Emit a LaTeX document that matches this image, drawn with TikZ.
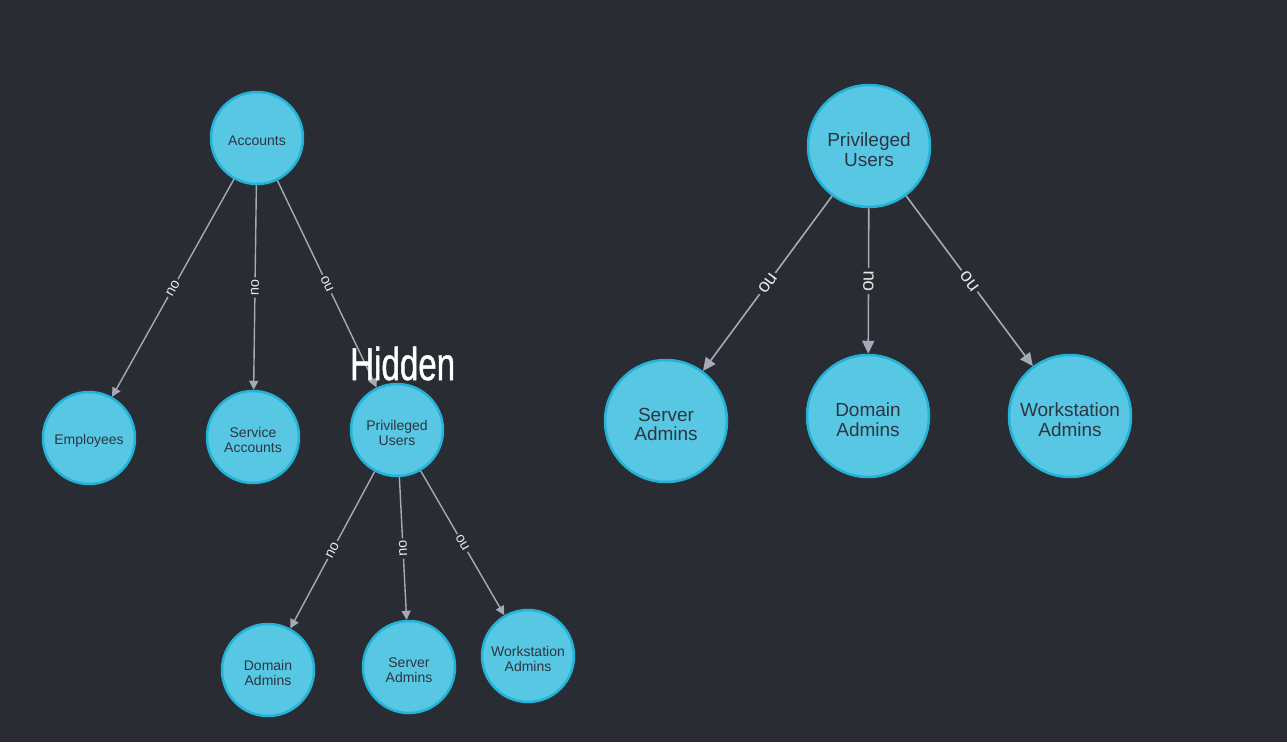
\documentclass[tikz,border=0pt]{standalone}
\usepackage{fontspec}
\setmainfont{Liberation Sans}
\newfontfamily\hidfont[FakeBold=1.2]{Liberation Sans}
\usetikzlibrary{arrows.meta}
\definecolor{bg}{HTML}{292C33}
\definecolor{nodefill}{HTML}{57C7E3}
\definecolor{nodeborder}{HTML}{23B3D7}
\definecolor{nodetext}{HTML}{2F3540}
\definecolor{edgecol}{HTML}{A5ABB6}
\definecolor{lbltext}{HTML}{E6E6E6}
\tikzset{
  ounode/.style={circle, fill=nodefill, draw=nodeborder, line width=2.5pt, inner sep=0pt},
  smalltext/.style={text=nodetext, align=center, inner sep=0pt, yshift=-3pt, font=\fontsize{14}{15}\selectfont},
  bigtext/.style={text=nodetext, align=center, inner sep=0pt, yshift=-3.5pt, font=\fontsize{19}{19.5}\selectfont},
  smallnode/.style={ounode, minimum size=92pt, label={[smalltext]center:#1}},
  bignode/.style={ounode, minimum size=122pt, label={[bigtext]center:#1}},
  edgesmall/.style={draw=edgecol, line width=1.4pt, -{Triangle[length=9pt,width=9pt]}},
  edgebig/.style={draw=edgecol, line width=1.6pt, -{Triangle[length=13pt,width=12pt]}},
  lblsmall/.style={midway, sloped, allow upside down, fill=bg, text=lbltext, inner sep=2pt, font=\fontsize{14.5}{14.5}\selectfont},
  lblbig/.style={midway, sloped, fill=bg, text=lbltext, inner sep=2.5pt, font=\fontsize{19}{19}\selectfont}
}
\begin{document}
\begin{tikzpicture}[x=1pt,y=-1pt]
\fill[bg] (0,0) rectangle (1287,742);
\useasboundingbox (0,0) rectangle (1287,742);

% left tree
\node[smallnode={Accounts}] (acc) at (257,138) {};
\node[smallnode={Employees}] (emp) at (89,438) {};
\node[smallnode={Service\\Accounts}] (svc) at (253,437) {};
\node[smallnode={Privileged\\Users}] (pu1) at (397,430) {};
\node[smallnode={Domain\\Admins}] (da1) at (268,670) {};
\node[smallnode={Server\\Admins}] (sa1) at (409,667) {};
\node[smallnode={Workstation\\Admins}] (wa1) at (528,656) {};

\draw[edgesmall] (acc) -- node[lblsmall] {ou} (emp);
\draw[edgesmall] (acc) -- node[lblsmall] {ou} (svc);
\draw[edgesmall] (acc) -- node[lblsmall] {ou} (pu1);
\draw[edgesmall] (pu1) -- node[lblsmall] {ou} (da1);
\draw[edgesmall] (pu1) -- node[lblsmall] {ou} (sa1);
\draw[edgesmall] (pu1) -- node[lblsmall] {ou} (wa1);

\node[anchor=base west, inner sep=0pt, text=white, font=\hidfont\fontsize{46}{46}\selectfont] (hid) at (350,380) {\scalebox{0.72}[1]{Hidden}};

% right tree
\node[bignode={Privileged\\Users}] (pu2) at (869,146) {};
\node[bignode={Server\\Admins}] (sa2) at (666,421) {};
\node[bignode={Domain\\Admins}] (da2) at (868,416) {};
\node[bignode={Workstation\\Admins}] (wa2) at (1070,416) {};

\draw[edgebig] (pu2) -- node[lblbig] {ou} (sa2);
\draw[edgebig] (pu2) -- node[lblbig] {ou} (da2);
\draw[edgebig] (pu2) -- node[lblbig] {ou} (wa2);
\end{tikzpicture}
\end{document}
